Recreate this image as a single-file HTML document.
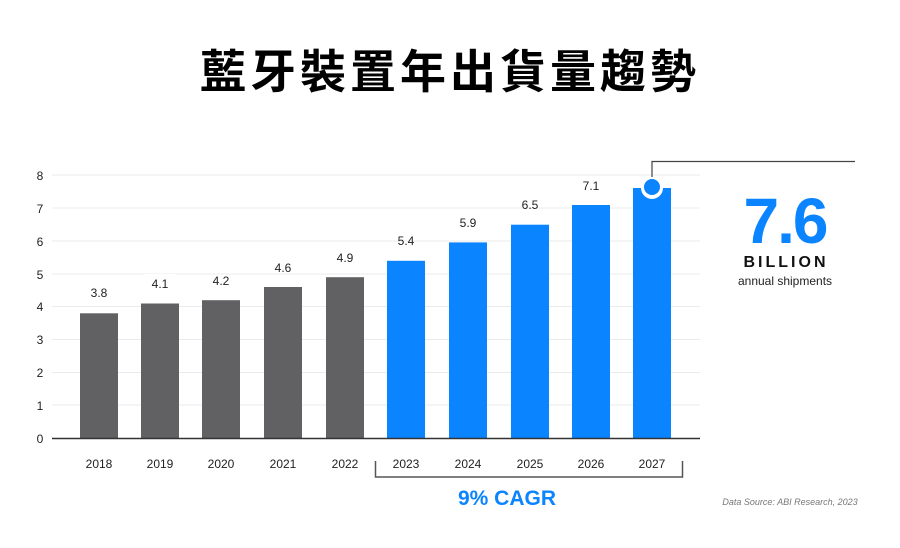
<!DOCTYPE html>
<html><head><meta charset="utf-8"><style>
html,body{margin:0;padding:0;background:#fff;}
svg{display:block;}
</style></head><body>
<svg width="900" height="548" viewBox="0 0 900 548" xmlns="http://www.w3.org/2000/svg" font-family="Liberation Sans, sans-serif">
<text x="450" y="88" text-anchor="middle" font-family="Liberation Sans, Noto Sans CJK TC, sans-serif" font-weight="700" font-size="46" letter-spacing="4" fill="#000">藍牙裝置年出貨量趨勢</text>
<g stroke="#ebebeb" stroke-width="1">
<line x1="52" y1="175" x2="700" y2="175"/>
<line x1="52" y1="208" x2="700" y2="208"/>
<line x1="52" y1="241" x2="700" y2="241"/>
<line x1="52" y1="274" x2="700" y2="274"/>
<line x1="52" y1="306.5" x2="700" y2="306.5"/>
<line x1="52" y1="339.5" x2="700" y2="339.5"/>
<line x1="52" y1="372.5" x2="700" y2="372.5"/>
<line x1="52" y1="405" x2="700" y2="405"/>
</g>
<g font-size="12" fill="#222" text-anchor="middle">
<text x="40" y="180">8</text><text x="40" y="213">7</text><text x="40" y="246">6</text><text x="40" y="279">5</text>
<text x="40" y="311">4</text><text x="40" y="344">3</text><text x="40" y="377">2</text><text x="40" y="410">1</text><text x="40" y="443">0</text>
</g>
<g fill="#616164">
<rect x="80" y="313.3" width="38" height="124.7"/>
<rect x="141" y="303.5" width="38" height="134.5"/>
<rect x="202" y="300.2" width="38" height="137.8"/>
<rect x="264" y="287" width="38" height="151"/>
<rect x="326" y="277.2" width="38" height="160.8"/>
</g>
<g fill="#0a84ff">
<rect x="387" y="260.8" width="38" height="177.2"/>
<rect x="449" y="242.4" width="38" height="195.6"/>
<rect x="511" y="224.7" width="38" height="213.3"/>
<rect x="572" y="205" width="38" height="233"/>
<rect x="633" y="188" width="38" height="250"/>
</g>
<g font-size="12" fill="#222" text-anchor="middle">
<rect x="82" y="283" width="34" height="18" fill="#fff"/><text x="99" y="297">3.8</text>
<rect x="143" y="274" width="34" height="18" fill="#fff"/><text x="160" y="288">4.1</text>
<text x="221" y="285">4.2</text><text x="283" y="272">4.6</text><text x="345" y="262">4.9</text>
<text x="406" y="245">5.4</text><text x="468" y="227">5.9</text><text x="530" y="209">6.5</text><text x="591" y="190">7.1</text>
</g>
<line x1="52" y1="438.5" x2="700" y2="438.5" stroke="#333" stroke-width="1.5"/>
<g font-size="12" fill="#222" text-anchor="middle">
<text x="99" y="468">2018</text><text x="160" y="468">2019</text><text x="221" y="468">2020</text><text x="283" y="468">2021</text><text x="345" y="468">2022</text>
<text x="406" y="468">2023</text><text x="468" y="468">2024</text><text x="530" y="468">2025</text><text x="591" y="468">2026</text><text x="652" y="468">2027</text>
</g>
<path d="M375.5 461 V477 H682.5 V461" fill="none" stroke="#555" stroke-width="1.5"/>
<text x="507" y="505" text-anchor="middle" font-size="21" font-weight="700" fill="#0a84ff">9% CAGR</text>
<path d="M652 181 V161.5 H855" fill="none" stroke="#444" stroke-width="1.2"/>
<circle cx="652" cy="188" r="11" fill="#fff"/>
<circle cx="652" cy="187" r="8" fill="#0a84ff"/>
<text x="785" y="243" text-anchor="middle" font-size="64" font-weight="700" fill="#0a84ff" letter-spacing="-2">7.6</text>
<text x="786" y="267" text-anchor="middle" font-size="16" font-weight="700" fill="#111" letter-spacing="3">BILLION</text>
<text x="785" y="285" text-anchor="middle" font-size="12" fill="#222">annual shipments</text>
<text x="790" y="505" text-anchor="middle" font-size="9" font-style="italic" fill="#777">Data Source: ABI Research, 2023</text>
</svg>
</body></html>
